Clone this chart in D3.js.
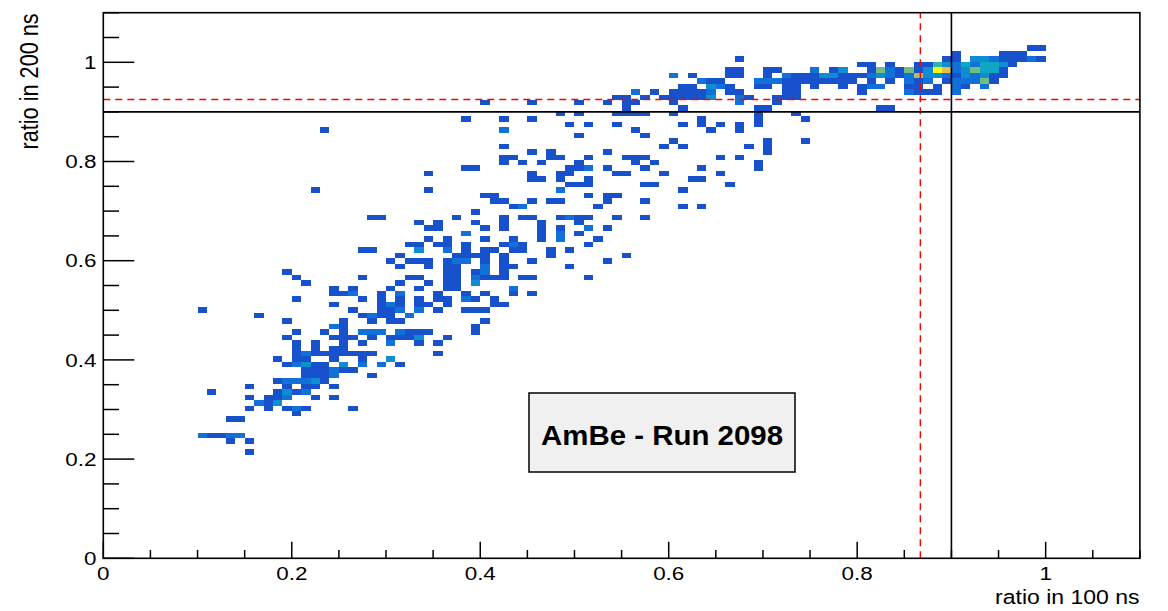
<!DOCTYPE html>
<html>
<head>
<meta charset="utf-8">
<script src="https://cdnjs.cloudflare.com/ajax/libs/d3/7.8.5/d3.min.js"></script>
<style>
  body { margin: 0; background: #fff; }
  svg { display: block; font-family: "Liberation Sans", Arial, Helvetica, sans-serif; }
</style>
</head>
<body>
<svg id="chart" width="1168" height="611"></svg>
<script>
// 2D histogram: 110 bins in x (0.01), 100 bins in y (0.011), range 0..1.1 on both.
// Each row is keyed by its y-bin index; entries are x-bin indices, "ixN" = N counts.
const binW = 0.01, binH = 0.011;
const zMax = 10;

const rows = {
  19: "15",
  21: "13 15",
  22: "10x2 11 12 13x2 14x2",
  25: "13 14",
  26: "20",
  27: "15 17 19 20x2 21 26",
  28: "16x2 17 18x3",
  29: "15 17 18 19x2 22 24",
  30: "11 18 19x3 20 21x2",
  31: "15 19 21 22 24",
  32: "18 19x2 20x2 21x2 22x3 23",
  33: "21 22 23 24x2 28",
  34: "21 22 23 24x2 25 26",
  35: "19 20x2 21x3 22 23 25x3 27x2 29x2 31",
  36: "18 20 21 24 27 30x3",
  37: "20 21x2 22 23 24 25 26 27 28 35",
  38: "20 22 24 25",
  39: "20 22 25 27 30x2 33 35",
  40: "19 24 25 26 28 30 31 32 33x3 36",
  41: "20 23 25 27x2 28x2 29x2 31x2 32 33 34 39",
  42: "24x2 25 39",
  43: "19 25 28 30 31 40",
  44: "16 27 28x2 29 30 32x2",
  45: "10 26 29 30 31x2 33x2 35 38 39 40",
  46: "24 29 30x2 31 33 34 36 41 42",
  47: "20 27 29 31 33 35 36 38x2 39 41",
  48: "24 25 26x2 29 31x2 35 38 40 43 45",
  49: "24 26 30 33 36 37 43x2",
  50: "21 31 34 36 37 39x3",
  51: "20 27 32 33 36 37 39x2 40 41 42 44 45 51",
  52: "19 36 37 39 40x2 42",
  53: "31 34 36 37 40x2 42 43 49",
  54: "30 32 33 34 36 37x2 38x2 40 42 45 53",
  55: "31 37 38 39 40 42 47 55",
  56: "27 28 33x3 36x2 38 40 41 43 44 47 49",
  57: "32 33 35 36 38 42 43x2 44 51",
  58: "34 36 40 43 46 48x2 52",
  59: "38x2 46 48x2 50",
  60: "34 35 40 42 46 48 51x2 53",
  61: "33 35 39 42 46 50",
  62: "28 29 37 42 44 45 48 49x2 50 51 54 57",
  63: "39",
  64: "43 44x2 52 61 63",
  65: "41 42 45 47 48 53 57",
  66: "40 41 51 53 54",
  67: "22 34 48x2 61",
  68: "49 50 51 57 58 66",
  69: "45 46 48 51 62 63",
  70: "34 45 48 49 54 55 59 65",
  71: "38 39 49 50 51x2 53 57 63 69",
  72: "42 44 46 50 56 58 69",
  73: "42 43 47 48 51 55 56 57 65 67",
  74: "45 47 53 70",
  75: "42 59 61 68 70",
  76: "60 70 74",
  77: "50 57",
  78: "23 42x2 56 64 67",
  79: "49 51 54 61 63 65 67 69",
  80: "38 42 45 63 69 74",
  81: "48 50 54 55 56 57 60 69 73",
  82: "55 61 69 70 82 83",
  83: "40 45 50 53 55 56 60 67x2 71",
  84: "54 55 57 59 60 61 62 63 64x3 67x2 68 71 72 73",
  85: "56x2 58 60 61 62 63 64x2 66 67 72 73 80 85x2 86 87 88 90x2",
  86: "61 62 64x3 65x2 66 69 70 72 73 75 78 80 81x2 82x2 85 86 88 90x2 91 93x2",
  87: "63x2 64 65 69x2 70x2 71x2 72 73 74 75 76 77 78 79 81 83 85x2 86 87x2 89 90x2 91x2 92x2 93x6 94",
  88: "60x2 62 66 67 70 72x2 73 74 75 76x3 77x3 78 79 80 81x2 82x3 83x2 84 85x2 86x7 87x3 88x3 89x2 90 91x3 92x2 93x3 94 95",
  89: "66 67 70 71 75x2 77 78x3 81 82x6 83x2 84 85x6 86 87x3 88x10 89x8 90x2 91x3 92x6 93x4 94x4 95",
  90: "80 81 83 86 87 88x5 89x3 90x2 91x4 92x2 93x4 94x4 95x3 96",
  91: "67 89 90 92x3 93x3 94x2 95 96 97 98x2 99",
  92: "90 95 96 97",
  93: "98 99"
};

// cut lines
const cutX = 0.9, cutY = 0.9;
const refX = 0.867, refY = 0.925;

const xTicks = [0, 0.2, 0.4, 0.6, 0.8, 1];
const yTicks = [0, 0.2, 0.4, 0.6, 0.8, 1];
const xTitle = "ratio in 100 ns";
const yTitle = "ratio in 200 ns";
const boxLabel = "AmBe - Run 2098";

// ROOT kBird palette stops
const birdStops = [0, 0.125, 0.25, 0.375, 0.5, 0.625, 0.75, 0.875, 1];
const birdR = [0.2082, 0.0592, 0.0780, 0.0232, 0.1802, 0.5301, 0.8186, 0.9956, 0.9764];
const birdG = [0.1664, 0.3599, 0.5041, 0.6419, 0.7178, 0.7492, 0.7328, 0.7862, 0.9832];
const birdB = [0.5293, 0.8684, 0.8385, 0.7914, 0.6425, 0.4662, 0.3499, 0.1968, 0.0539];

////////////////////////////////////////////////////////////////////////

const svg = d3.select("#chart");
const xScale = d3.scaleLinear().domain([0, 1.1]).range([103.3, 1139.9]);
const yScale = d3.scaleLinear().domain([0, 1.1]).range([558.3, 12.7]);

const birdColor = d3.scaleLinear()
  .domain(birdStops)
  .range(birdStops.map((s, k) => d3.rgb(birdR[k] * 255, birdG[k] * 255, birdB[k] * 255)))
  .clamp(true);

let cells = [];
Object.keys(rows).forEach(function(j) {
  rows[j].split(" ").forEach(function(tok) {
    let parts = tok.split("x");
    cells.push({ ix: +parts[0], iy: +j, n: parts.length > 1 ? +parts[1] : 1 });
  });
});

svg.append("g")
  .selectAll("rect")
  .data(cells)
  .enter()
  .append("rect")
  .attr("x", d => xScale(d.ix * binW))
  .attr("y", d => yScale((d.iy + 1) * binH))
  .attr("width", d => xScale((d.ix + 1) * binW) - xScale(d.ix * binW))
  .attr("height", d => yScale(d.iy * binH) - yScale((d.iy + 1) * binH))
  .attr("fill", d => birdColor(Math.floor(d.n / zMax * 254) / 254))
  .attr("shape-rendering", "crispEdges");

// cut lines
svg.append("line")
  .attr("x1", xScale(0)).attr("x2", xScale(1.1))
  .attr("y1", yScale(refY)).attr("y2", yScale(refY))
  .attr("stroke", "#ff0000").attr("stroke-width", 1.4).attr("stroke-dasharray", "7,5");
svg.append("line")
  .attr("x1", xScale(refX)).attr("x2", xScale(refX))
  .attr("y1", yScale(0)).attr("y2", yScale(1.1))
  .attr("stroke", "#ff0000").attr("stroke-width", 1.4).attr("stroke-dasharray", "7,5");
svg.append("line")
  .attr("x1", xScale(0)).attr("x2", xScale(1.1))
  .attr("y1", yScale(cutY)).attr("y2", yScale(cutY))
  .attr("stroke", "#000").attr("stroke-width", 1.6);
svg.append("line")
  .attr("x1", xScale(cutX)).attr("x2", xScale(cutX))
  .attr("y1", yScale(0)).attr("y2", yScale(1.1))
  .attr("stroke", "#000").attr("stroke-width", 1.6);

// frame
svg.append("rect")
  .attr("x", xScale(0)).attr("y", yScale(1.1))
  .attr("width", xScale(1.1) - xScale(0))
  .attr("height", yScale(0) - yScale(1.1))
  .attr("fill", "none").attr("stroke", "#000").attr("stroke-width", 1.6);

// ticks (drawn inward like ROOT)
const minor = d3.range(0, 1.1001, 0.05);
const axisG = svg.append("g").attr("stroke", "#000").attr("stroke-width", 1.5);
minor.forEach(function(v) {
  let major = Math.abs(v * 5 - Math.round(v * 5)) < 1e-6;
  axisG.append("line")
    .attr("x1", xScale(v)).attr("x2", xScale(v))
    .attr("y1", yScale(0)).attr("y2", yScale(0) - (major ? 16.5 : 8.3));
  axisG.append("line")
    .attr("x1", xScale(0)).attr("x2", xScale(0) + (major ? 31 : 15.7))
    .attr("y1", yScale(v)).attr("y2", yScale(v));
});

// text helper: the picture is stretched horizontally, so widen glyphs the same way
function label(x, y, str, size, anchor, opts) {
  opts = opts || {};
  let s = opts.stretch || 1.18;
  let g = svg.append("g")
    .attr("transform", "translate(" + x + "," + y + ")" + (opts.rotate ? " rotate(-90)" : "") +
          (opts.rotate ? " scale(1," + s + ")" : " scale(" + s + ",1)"));
  return g.append("text")
    .attr("text-anchor", anchor)
    .attr("font-size", size)
    .attr("font-weight", opts.bold ? "bold" : "normal")
    .attr("fill", "#000")
    .text(str);
}

xTicks.forEach(function(v) {
  label(xScale(v), 580, d3.format("~g")(v), 19, "middle");
});
yTicks.forEach(function(v) {
  label(96.5, yScale(v) + 6.6, d3.format("~g")(v), 19, "end");
});

label(1139.5, 604, xTitle, 19.5, "end");
label(38.3, 13.3, yTitle, 21.7, "end", { rotate: true });

// label box
svg.append("rect")
  .attr("x", 529).attr("y", 393).attr("width", 266).attr("height", 79)
  .attr("fill", "#f0f0f0").attr("stroke", "#000").attr("stroke-width", 1.5);
label(662, 445, boxLabel, 27, "middle", { bold: true, stretch: 1.09 });
</script>
</body>
</html>
